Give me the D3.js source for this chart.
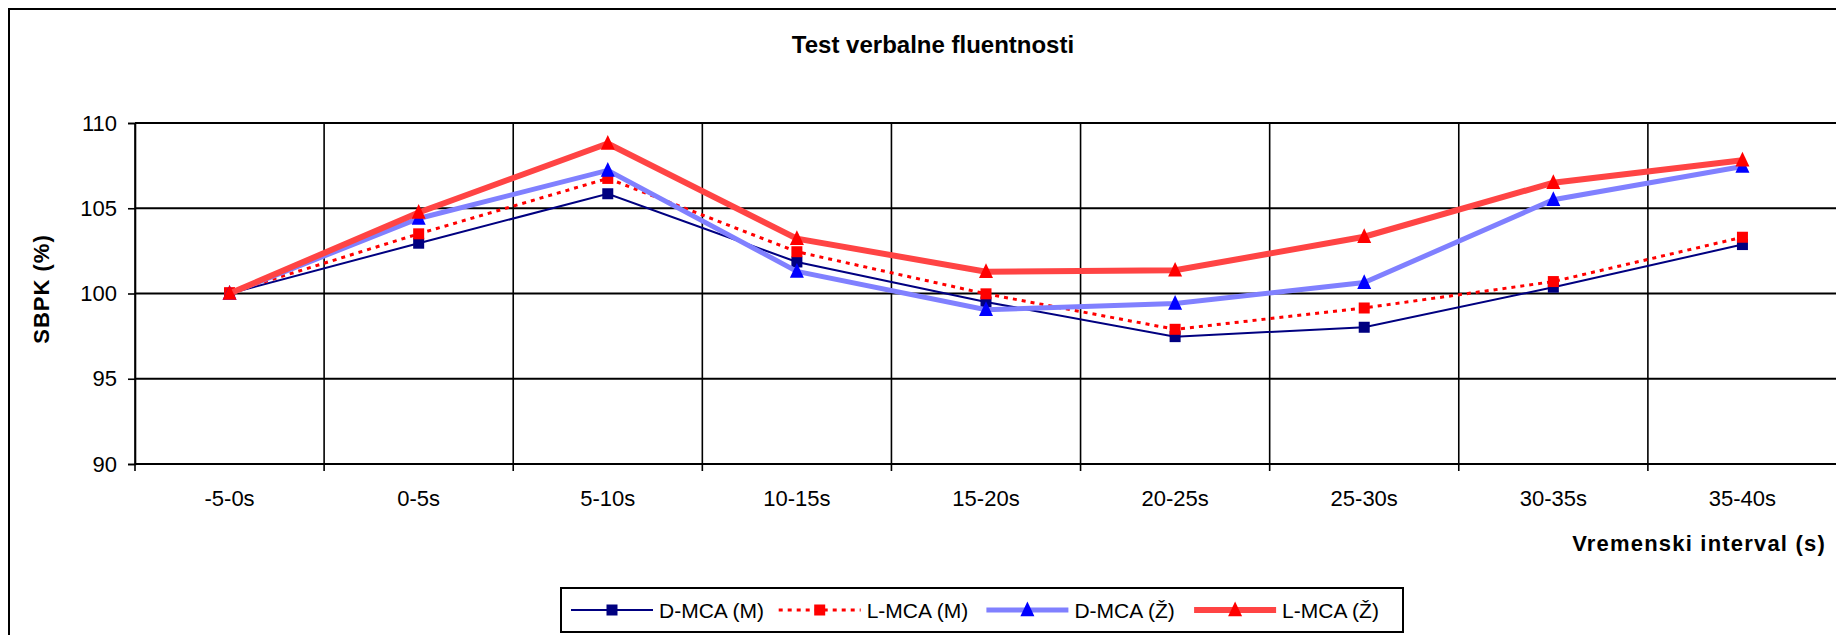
<!DOCTYPE html>
<html>
<head>
<meta charset="utf-8">
<script src="https://cdn.jsdelivr.net/npm/d3@7/dist/d3.min.js"></script>
<style>
  html, body { margin: 0; padding: 0; background: #fff; }
  svg { display: block; }
  text { font-family: "Liberation Sans", Arial, sans-serif; fill: #000; }
</style>
</head>
<body>
<svg id="chart" width="1836" height="635"></svg>
<script>
// ---- data ----
const title = "Test verbalne fluentnosti";
const yTitle = "SBPK (%)";
const xTitle = "Vremenski interval (s)";
const categories = ["-5-0s", "0-5s", "5-10s", "10-15s", "15-20s", "20-25s", "25-30s", "30-35s", "35-40s"];
const yTicks = [90, 95, 100, 105, 110];
const seriesNames = ["D-MCA (M)", "L-MCA (M)", "D-MCA (Ž)", "L-MCA (Ž)"];
const dmcaM = [100, 102.95, 105.85, 101.85, 99.5, 97.47, 98.02, 100.37, 102.87];
const lmcaM = [100.05, 103.5, 106.75, 102.45, 99.98, 97.9, 99.15, 100.7, 103.3];
const dmcaZ = [100, 104.4, 107.22, 101.3, 99.05, 99.42, 100.64, 105.5, 107.45];
const lmcaZ = [100, 104.75, 108.8, 103.22, 101.28, 101.36, 103.33, 106.5, 107.82];

// ---- styles (kept separate from data) ----
const styles = [
  { values: dmcaM, line: "#000080", width: 2,   dash: null,  marker: "square",   mcolor: "#000080" },
  { values: lmcaM, line: "#ff0000", width: 3,   dash: "4,5", marker: "square",   mcolor: "#ff0000" },
  { values: dmcaZ, line: "#8080ff", width: 5,   dash: null,  marker: "triangle", mcolor: "#0000ff" },
  { values: lmcaZ, line: "#ff4444", width: 6,   dash: null,  marker: "triangle", mcolor: "#ff0000" }
];

const svg = d3.select("#chart");
const plot = { left: 135, right: 1837, top: 123, bottom: 464 };

// outer border
svg.append("rect").attr("x", 9).attr("y", 9).attr("width", 1900).attr("height", 700)
  .attr("fill", "none").attr("stroke", "#000").attr("stroke-width", 2);

const x = d3.scaleBand().domain(categories).range([plot.left, plot.right]).padding(0);
const y = d3.scaleLinear().domain([90, 110]).range([plot.bottom, plot.top]);

// title
svg.append("text").attr("x", 933).attr("y", 53).attr("text-anchor", "middle")
  .style("font-size", "24px").style("font-weight", "bold").text(title);

// horizontal gridlines
svg.append("g").selectAll("line").data(yTicks).join("line")
  .attr("x1", plot.left).attr("x2", plot.right)
  .attr("y1", d => y(d)).attr("y2", d => y(d))
  .attr("stroke", "#000").attr("stroke-width", 2);

// vertical gridlines at category boundaries
const bounds = categories.map(c => x(c)).concat([x(categories[categories.length - 1]) + x.bandwidth()]);
svg.append("g").selectAll("line").data(bounds).join("line")
  .attr("x1", d => d).attr("x2", d => d)
  .attr("y1", plot.top).attr("y2", plot.bottom + 7)
  .attr("stroke", "#000").attr("stroke-width", 1.6);

// y axis ticks and labels
const yAxis = d3.axisLeft(y).tickValues(yTicks).tickSize(7).tickPadding(11);
const gy = svg.append("g").attr("transform", `translate(${plot.left},0)`).call(yAxis);
gy.select(".domain").attr("stroke", "#000").attr("stroke-width", 1.6);
gy.selectAll(".tick line").attr("stroke", "#000").attr("stroke-width", 1.6);
gy.selectAll(".tick text").style("font-size", "22px").style("font-family", '"Liberation Sans", Arial, sans-serif');

// x labels
const xAxis = d3.axisBottom(x).tickSize(0).tickPadding(26);
const gx = svg.append("g").attr("transform", `translate(0,${plot.bottom})`).call(xAxis);
gx.select(".domain").remove();
gx.selectAll(".tick text").style("font-size", "22px").style("font-family", '"Liberation Sans", Arial, sans-serif');

// axis titles
svg.append("text").attr("transform", "translate(49,289) rotate(-90)").attr("text-anchor", "middle")
  .style("font-size", "22px").style("font-weight", "bold").style("letter-spacing", "1px").text(yTitle);
svg.append("text").attr("x", 1826).attr("y", 551).attr("text-anchor", "end")
  .style("font-size", "22px").style("font-weight", "bold").style("letter-spacing", "1.2px").text(xTitle);

// series
const cx = c => x(c) + x.bandwidth() / 2;
const lineGen = d3.line().x((d, i) => cx(categories[i])).y(d => y(d));
const sq = 11, tri = 14;
function drawMarker(g, type, color, px, py) {
  if (type === "square") {
    g.append("rect").attr("x", px - sq / 2).attr("y", py - sq / 2).attr("width", sq).attr("height", sq).attr("fill", color);
  } else {
    g.append("path").attr("d", `M${px},${py - tri * 0.6} L${px + tri / 2},${py + tri * 0.45} L${px - tri / 2},${py + tri * 0.45} Z`).attr("fill", color);
  }
}
styles.forEach(s => {
  const g = svg.append("g");
  g.append("path").datum(s.values).attr("d", lineGen).attr("fill", "none")
    .attr("stroke", s.line).attr("stroke-width", s.width)
    .attr("stroke-dasharray", s.dash).attr("stroke-linejoin", "miter");
  s.values.forEach((v, i) => drawMarker(g, s.marker, s.mcolor, cx(categories[i]), y(v)));
});

// legend
const lg = svg.append("g");
lg.append("rect").attr("x", 561).attr("y", 588).attr("width", 842).attr("height", 44)
  .attr("fill", "#fff").attr("stroke", "#000").attr("stroke-width", 2);
seriesNames.forEach((name, i) => {
  const s = styles[i];
  const x0 = 571 + i * 207.7, ly = 610;
  lg.append("line").attr("x1", x0).attr("x2", x0 + 82).attr("y1", ly).attr("y2", ly)
    .attr("stroke", s.line).attr("stroke-width", s.width).attr("stroke-dasharray", s.dash);
  drawMarker(lg, s.marker, s.mcolor, x0 + 41, ly);
  lg.append("text").attr("x", x0 + 88).attr("y", ly).attr("dy", "0.36em")
    .style("font-size", "21px").text(name);
});
</script>
</body>
</html>
